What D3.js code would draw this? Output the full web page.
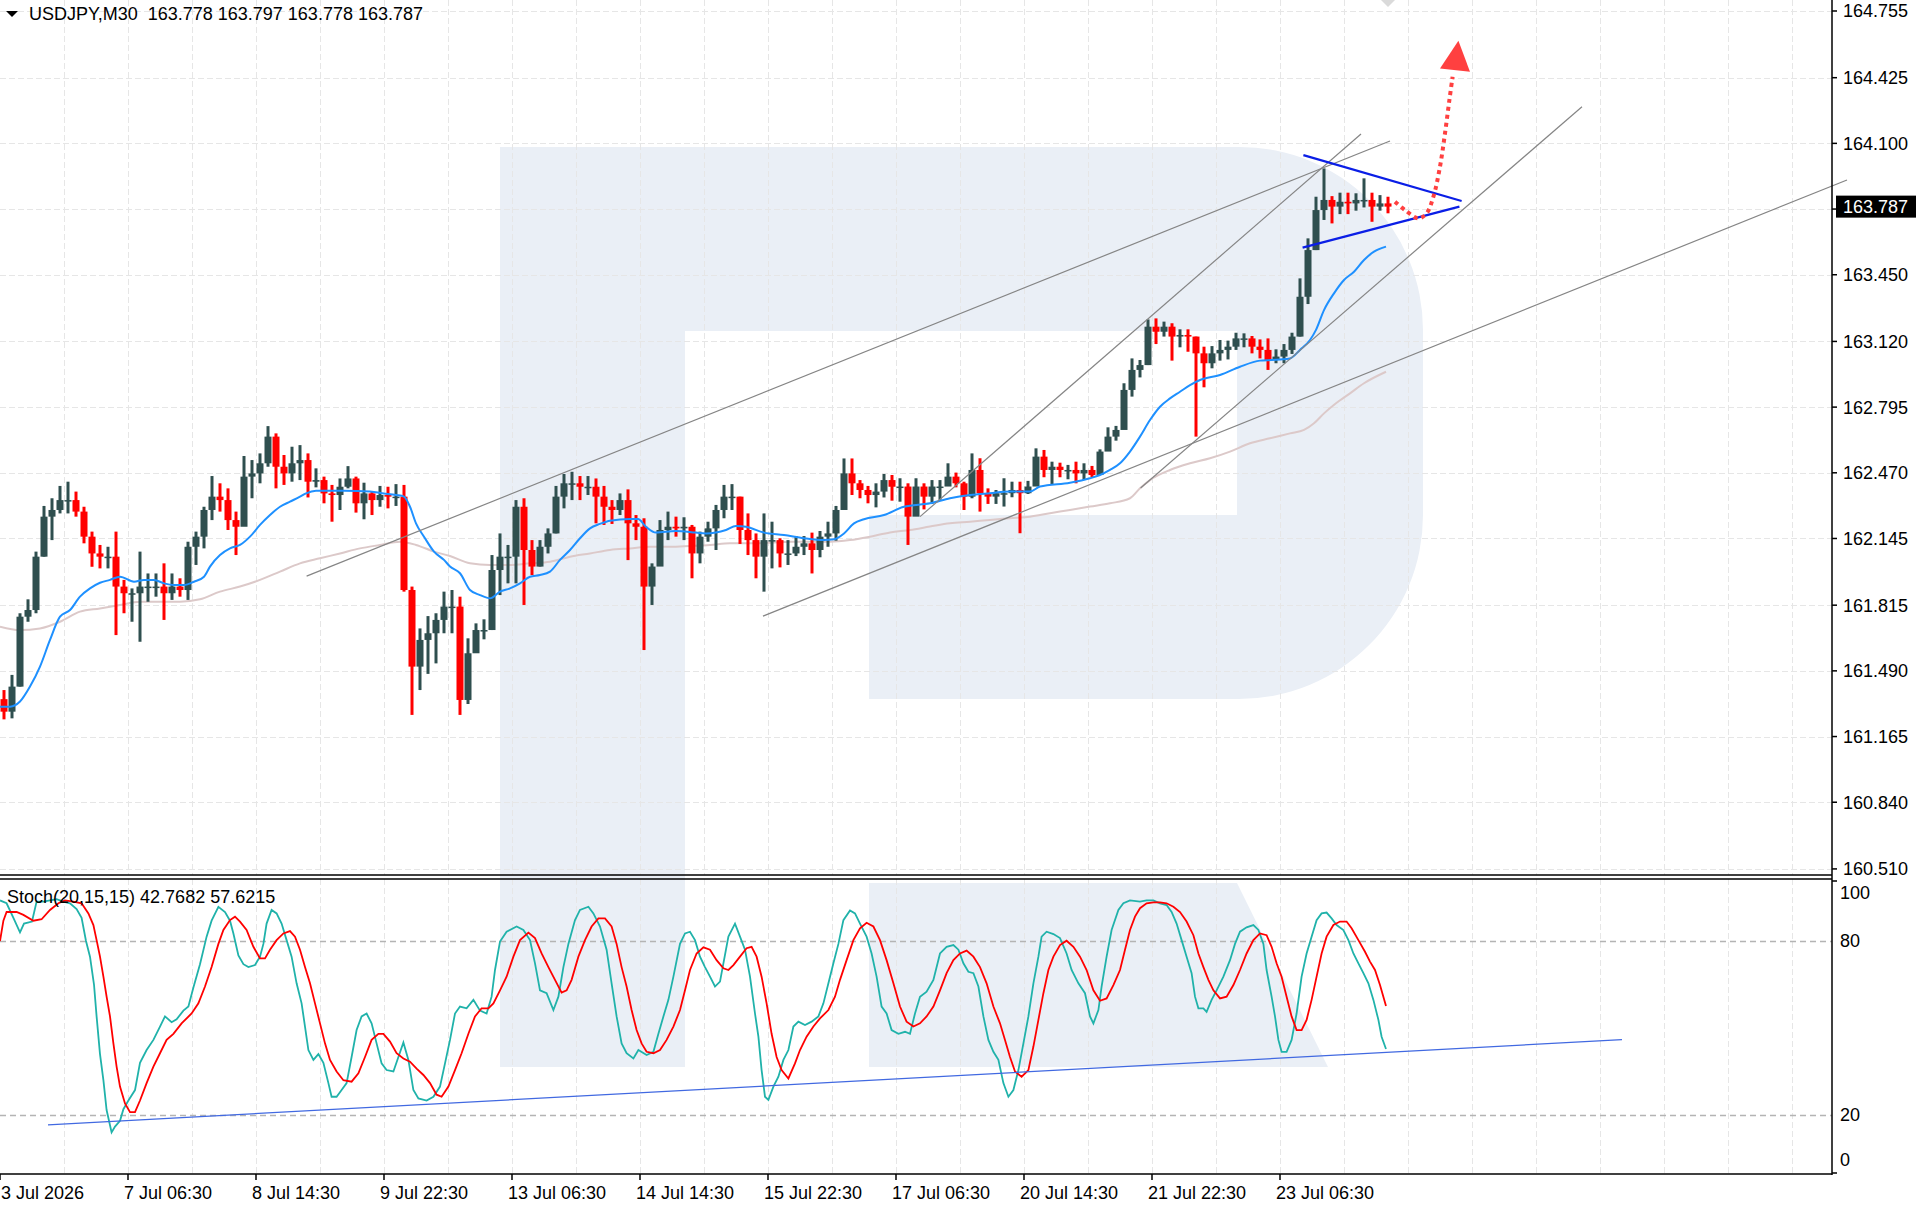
<!DOCTYPE html>
<html><head><meta charset="utf-8">
<script src="https://cdn.jsdelivr.net/npm/d3@7"></script>
<style>
body{margin:0;background:#fff;}
svg{display:block;}
text{font-family:"Liberation Sans",Arial,sans-serif;font-size:18px;fill:#000;}
</style>
</head><body>
<svg id="c" width="1923" height="1214"></svg>
<script>
// ---------------- DATA ----------------
const symbolTitle = "USDJPY,M30  163.778 163.797 163.778 163.787";
const stochTitle = "Stoch(20,15,15) 42.7682 57.6215";
const lastPrice = 163.787;
const barsPerCandle = 4;          // each candle below aggregates 4 M30 bars
const firstOpen = 161.35;
const highs = [161.395,161.470,161.775,161.844,162.080,162.306,162.344,162.405,162.426,162.377,
162.302,162.179,162.113,162.104,162.179,161.940,161.898,162.080,161.972,161.972,
162.022,161.972,161.948,162.129,162.179,162.302,162.454,162.418,162.393,162.278,
162.553,162.533,162.566,162.701,162.665,162.558,162.599,162.607,162.566,162.492,
162.451,162.410,162.442,162.503,162.451,162.421,162.377,162.405,162.401,162.414,
162.410,161.907,161.700,161.761,161.775,161.882,161.890,161.857,161.651,161.725,
161.745,162.063,162.170,162.113,162.335,162.344,162.137,162.137,162.195,162.405,
162.464,162.475,162.454,162.454,162.442,162.405,162.335,162.368,162.388,162.261,
162.245,162.022,162.236,162.278,162.253,162.250,162.212,162.179,162.228,162.311,
162.410,162.414,162.352,162.269,162.170,162.269,162.228,162.146,162.137,162.157,
162.157,162.174,162.182,162.228,162.306,162.541,162.541,162.434,162.405,162.418,
162.464,162.459,162.443,162.418,162.443,162.418,162.434,162.434,162.517,162.471,
162.426,162.566,162.542,162.393,162.385,162.443,162.426,162.426,162.430,162.591,
162.583,162.525,162.520,162.509,162.525,162.517,162.504,162.586,162.695,162.702,
162.913,163.036,163.028,163.229,163.234,163.218,163.210,163.180,163.180,163.144,
163.094,163.097,163.127,163.124,163.163,163.160,163.147,163.130,163.135,163.081,
163.107,163.163,163.432,163.630,163.836,163.976,163.839,163.856,163.856,163.853,
163.927,163.856,163.844,163.836];
const lows = [161.250,161.255,161.412,161.733,161.775,162.055,162.137,162.269,162.269,162.253,
162.121,162.005,161.997,161.997,161.667,161.775,161.733,161.634,161.832,161.857,
161.742,161.841,161.857,161.841,162.014,162.096,162.236,162.278,162.187,162.063,
162.236,162.344,162.418,162.500,162.393,162.410,162.426,162.434,162.348,162.398,
162.319,162.228,162.286,162.393,162.273,162.240,162.261,162.302,162.294,162.306,
161.882,161.272,161.395,161.475,161.527,161.676,161.676,161.272,161.326,161.602,
161.646,161.692,161.865,161.923,161.923,161.816,161.964,162.006,162.071,162.170,
162.294,162.335,162.335,162.360,162.220,162.212,162.217,162.261,162.038,162.137,
161.593,161.816,162.080,162.137,162.154,162.137,161.948,162.022,162.129,162.088,
162.245,162.286,162.118,162.063,161.948,161.882,161.997,162.002,162.014,162.058,
162.063,161.972,162.052,162.104,162.134,162.294,162.360,162.344,162.319,162.299,
162.348,162.332,162.327,162.113,162.319,162.289,162.316,162.336,162.415,162.398,
162.286,162.344,162.278,162.316,162.316,162.303,162.349,162.171,162.365,162.418,
162.448,162.410,162.448,162.438,162.418,162.434,162.448,162.464,162.580,162.629,
162.690,162.847,162.942,163.003,163.107,163.144,163.025,163.091,163.069,162.649,
162.893,162.987,163.025,163.031,163.078,163.091,163.061,163.036,162.979,163.012,
163.012,163.058,163.144,163.305,163.572,163.721,163.704,163.750,163.750,163.767,
163.783,163.712,163.767,163.754];
const closes = [161.288,161.412,161.758,161.791,162.055,162.253,162.286,162.335,162.335,162.278,
162.154,162.071,162.055,162.055,161.907,161.874,161.874,161.907,161.907,161.907,
161.874,161.907,161.890,162.104,162.154,162.286,162.352,162.335,162.236,162.203,
162.451,162.467,162.517,162.649,162.500,162.467,162.517,162.533,162.426,162.434,
162.368,162.360,162.401,162.442,162.319,162.368,162.335,162.360,162.352,162.352,
161.890,161.511,161.643,161.676,161.742,161.808,161.808,161.346,161.577,161.692,
161.692,161.989,162.055,162.055,162.302,162.088,162.006,162.104,162.170,162.352,
162.418,162.418,162.401,162.401,162.352,162.302,162.286,162.335,162.220,162.203,
161.907,162.006,162.187,162.203,162.195,162.203,162.071,162.154,162.195,162.286,
162.352,162.352,162.187,162.137,162.055,162.137,162.137,162.071,162.071,162.104,
162.121,162.088,162.154,162.170,162.286,162.467,162.418,162.385,162.360,162.377,
162.434,162.401,162.402,162.253,162.402,162.352,162.402,162.402,162.451,162.418,
162.352,162.484,162.369,162.352,162.369,162.369,162.385,162.369,162.402,162.550,
162.484,162.500,162.484,162.484,162.467,162.484,162.459,162.575,162.649,162.682,
162.880,162.979,163.003,163.193,163.168,163.193,163.144,163.152,163.144,163.061,
163.012,163.061,163.078,163.094,163.135,163.135,163.094,163.078,163.028,163.045,
163.078,163.144,163.341,163.572,163.770,163.820,163.787,163.811,163.803,163.820,
163.820,163.787,163.803,163.787];

// moving averages: [bar index, price]
const maFast = [[0,161.313],[5,161.313],[10,161.338],[15,161.412],[20,161.511],[25,161.643],[30,161.758],[35,161.791],[40,161.857],[45,161.898],[50,161.926],[55,161.940],[60,161.956],[67,161.931],[72,161.940],[77,161.940],[82,161.923],[87,161.915],[92,161.915],[97,161.931],[102,161.956],[105,162.006],[110,162.063],[115,162.096],[120,162.113],[125,162.154],[130,162.212],[135,162.261],[140,162.302],[145,162.327],[150,162.352],[153,162.368],[158,162.381],[172,162.381],[185,162.377],[192,162.368],[198,162.360],[202,162.352],[205,162.302],[208,162.220],[212,162.154],[217,162.080],[222,162.039],[225,162.006],[230,161.973],[235,161.890],[240,161.865],[245,161.849],[250,161.882],[255,161.898],[260,161.923],[265,161.956],[270,161.964],[275,161.981],[280,162.039],[285,162.088],[290,162.146],[295,162.195],[300,162.217],[305,162.233],[315,162.241],[319,162.241],[323,162.203],[328,162.174],[338,162.182],[348,162.174],[353,162.170],[363,162.187],[368,162.207],[373,162.203],[382,162.174],[392,162.162],[402,162.146],[412,162.137],[417,162.141],[422,162.170],[427,162.220],[432,162.240],[442,162.261],[452,162.302],[465,162.319],[475,162.344],[485,162.360],[495,162.369],[505,162.377],[515,162.377],[520,162.402],[535,162.421],[545,162.443],[550,162.459],[555,162.484],[560,162.517],[565,162.575],[570,162.649],[575,162.731],[580,162.797],[585,162.838],[590,162.871],[595,162.904],[600,162.929],[610,162.954],[620,162.995],[630,163.025],[640,163.031],[645,163.036],[650,163.078],[655,163.127],[658,163.177],[662,163.275],[667,163.358],[672,163.424],[677,163.465],[682,163.523],[687,163.564],[693,163.589]];
const maSlow = [[0,161.709],[10,161.692],[20,161.700],[30,161.733],[40,161.783],[50,161.799],[60,161.816],[70,161.832],[80,161.832],[90,161.832],[100,161.844],[110,161.882],[120,161.907],[130,161.940],[140,161.981],[150,162.022],[160,162.047],[170,162.071],[180,162.096],[190,162.113],[200,162.129],[208,162.113],[217,162.080],[225,162.058],[235,162.022],[245,162.014],[255,162.014],[265,162.022],[275,162.030],[285,162.055],[295,162.071],[305,162.088],[315,162.096],[325,162.104],[335,162.104],[345,162.108],[355,162.113],[365,162.121],[375,162.121],[385,162.124],[395,162.129],[405,162.129],[415,162.129],[425,162.137],[435,162.154],[445,162.175],[455,162.187],[465,162.204],[475,162.220],[485,162.228],[495,162.237],[505,162.245],[515,162.253],[525,162.270],[535,162.286],[545,162.303],[555,162.319],[565,162.344],[570,162.393],[575,162.434],[585,162.484],[595,162.517],[605,162.542],[615,162.575],[625,162.616],[635,162.641],[645,162.665],[652,162.682],[657,162.715],[662,162.764],[668,162.814],[675,162.863],[682,162.913],[693,162.970]];

// trend lines: [[bar, price],[bar, price]]
const grayLines = [
  [[153.3,161.959],[695,164.112]],
  [[460,162.253],[680.5,164.146]],
  [[570.3,162.395],[791,164.281]],
  [[381.5,161.761],[923.5,163.919]]
];
const triangleLines = [
  [[651.7,164.042],[730.8,163.815]],
  [[651.3,163.584],[729.7,163.787]]
];
const forecastPath = [[697.5,163.811],[702.5,163.770],[709.2,163.729],[713.3,163.754],[716.7,163.836],[720,163.985],[722.5,164.150],[724.7,164.315],[726.3,164.430]];
const forecastHead = [[729.2,164.608],[720,164.471],[735,164.455]];

// stochastic: [bar, value]
const stochMain = [[0,94],[3.3,93],[6.7,88],[10,83],[12,86],[16,86.7],[18.3,93.6],[21.7,93.6],[25,94],[28.3,94.4],[31.7,93.6],[35,93],[38.3,91],[40.8,88],[43,80],[45,74.6],[47,65],[48.3,54],[50,41],[51.7,32],[53.3,21.7],[55.8,14],[57.5,16],[60,18],[61.7,22],[64.2,25],[67.5,28.6],[70,38],[73.3,42.4],[76.7,45.9],[80,50.5],[82.5,54],[85.8,52],[88.3,53],[91.7,56],[94.2,57.4],[96.7,64],[100,72],[103.3,81.5],[105.8,87],[109.2,91.8],[112.5,90],[115,87],[116.7,82.6],[119.2,75],[121.7,72],[124.2,71],[127.5,71.7],[130,74.6],[131.7,79],[133.3,86],[135.8,90.7],[138.3,89.5],[140.8,86],[143.3,80.3],[145.8,74.6],[148.3,65.4],[150.8,58.5],[152.5,50.5],[154.2,42.4],[156.7,39],[159.2,41],[161.7,38],[164.2,31],[165.8,26.3],[168.3,26.3],[170.8,28.6],[173.3,31],[175.8,40],[178.3,49.3],[180.8,54],[183.3,55],[185.8,51.6],[188.3,44.7],[190.8,37.8],[193.3,35.5],[196.7,35],[199.2,40],[201.7,45],[204.2,39],[206.7,28.6],[209.2,25.7],[213.3,25],[216.7,26.3],[220,29.8],[222.5,37.8],[225,45.9],[227.5,55],[230,57.4],[233.3,56.8],[236.7,59.7],[240,56],[243.3,55],[245.8,60.8],[247.5,70],[250,79.8],
[253.3,83.2],[258.3,85],[261.7,83.8],[265,80.3],[267.5,72.3],[270,63],[273.3,62],[276.7,56.2],[279.2,60.8],[281.7,71],[284.2,79],[287.5,87.2],[290,90.7],[294.2,91.8],[296.7,89.5],[300,85],[303.3,77],[305.8,65.4],[308.3,54],[310.8,44.7],[313.3,41.3],[316.7,39.5],[319.2,42.4],[323.3,40.7],[326.7,41.8],[329.2,48],[331.7,54],[334.2,59.7],[336.7,67.7],[340,79],[342.5,82.6],[345,83.2],[347.5,80.3],[350,74.6],[352.5,71],[355,67.7],[357.5,64.3],[360,66],[361.7,72.3],[364.2,81.5],[367.5,86],[370,81.5],[372.5,77],[375,67.7],[377.5,55],[379.2,47],[380.8,35.5],[382.5,26.3],[384.2,25.2],[386.7,29.8],[389.2,33.2],[391.7,39],[394.2,42.4],[396.7,50.5],[399.2,52.2],[402.5,51],[405.8,52.2],[409.2,54],[411.7,58.5],[414.2,65.4],[416.7,72.3],[419.2,79],[421.7,87.2],[425,90.5],[427.5,89.5],[430,86],[433.3,81.5],[435.8,75.7],[438.3,67.7],[440.8,57.4],[443.3,55],[445.8,49.3],[449.2,48],[452.5,48.7],[455,48],[457.5,55],[460,60.8],[463.3,62.5],[466.7,66.6],[470,75.7],[473.3,78],[476.7,78.6],[479.2,77],[481.7,72.3],[484.2,69.4],[486.7,68.9],[489.2,64.3],[491.7,54],[494.2,45.9],[496.7,41.8],[499.2,39],
[501.7,31],[504.2,26.3],[506.7,28.6],[509.2,35.5],[511.7,44.7],[514.2,54],[516.7,65.4],[519.2,74.6],[520.8,81.5],[523.3,83.2],[526.7,82.4],[530,81],[533.3,75.7],[535.8,70],[539.2,65.4],[542.5,62],[545,54],[546.7,51.6],[549.2,56.2],[550.8,64.3],[553.3,74.6],[555.8,83.8],[559.2,90.7],[561.7,93],[565,94],[570,93.6],[573.3,94],[576.7,94],[580,93],[583.3,92.4],[585.8,90],[588.3,86],[590.8,80.3],[593.3,74.6],[595.8,68.9],[597.5,60.8],[599.2,56.8],[601.7,56.8],[603.3,55.6],[605.8,59.7],[608.3,63],[611.7,67.7],[615,73.4],[617.5,79],[620,83.2],[623.3,84.7],[626.7,85.5],[629.2,83.8],[631.7,79],[633.3,70],[635.8,60.8],[637.5,54],[639.2,45.9],[640.8,41.8],[643.3,41.8],[645.8,45.9],[648.3,55],[650.8,67.7],[653.3,75.7],[655.8,81.5],[658.3,87.2],[660.8,89.5],[663.3,89.8],[665.8,87.8],[668.3,85.5],[671.7,83.8],[674.2,80.3],[676.7,75.7],[679.2,72.3],[681.7,68.9],[684.2,65.4],[686.7,59.7],[689.2,52.8],[690.8,47],[693,42.77]];
const stochSignal = [[0,80],[1.7,87],[3.3,90],[8.3,90],[11.7,89],[16.7,87],[20.8,87.5],[25,90.7],[29.2,93],[32.5,94],[36.7,93.6],[40.8,93],[44.2,89.5],[46.7,85.5],[48.3,80.3],[50,74.6],[51.7,67.7],[53.3,60.8],[55,54],[56.7,44.7],[58.3,36.7],[60,29.8],[62.5,24],[65,21],[67.5,21],[70,25],[73.3,31],[76.7,36.7],[80,41.3],[83.3,45.9],[86.7,48],[90.8,51.6],[95.8,55],[99.2,58.5],[102.5,64.3],[105.8,71],[109.2,79],[111.7,83.8],[115,87.2],[117.5,88.4],[120,86.7],[123.3,83.8],[126.7,78],[130,74],[132.5,74],[135,77],[138.3,80.3],[141.7,82.6],[145,83.4],[147.5,81.5],[150,77],[152.5,71],[155,65.4],[157.5,58.5],[160,51.6],[162.5,44.7],[165,39],[168.3,35],[171.7,32],[175.8,31.5],[179.2,34.4],[182.5,40],[185.8,45.9],[189.2,48],[191.7,48],[195,45.3],[198.3,41.3],[201.7,39.5],[205,38.4],[208.3,36],[211.7,33.8],[215,31],[218.3,27],[220.8,26.3],[224.2,29.8],[227.5,35.5],[230.8,41.3],[234.2,48],[237.5,54],[240.8,56.8],[244.2,56.8],[246.7,58.5],[250,63],
[253.3,67.7],[256.7,74.6],[260,80.3],[264.2,82.9],[267.5,81],[270.8,75.7],[274.2,71],[277.5,66.6],[280.8,62.2],[283.3,63],[285.8,66.6],[289.2,74.6],[292.5,80.3],[295.8,85],[299.2,87.8],[302.5,87.8],[305.8,85],[308.3,79],[310.8,71],[313.3,64.3],[315.8,56.2],[318.3,49.3],[320.8,44.7],[323.3,41.8],[326.7,41.3],[330,42.4],[333.3,45.9],[336.7,50.5],[340,56.2],[342.5,63],[345,70],[348.3,75.7],[351.7,77.8],[355,77],[358.3,73.4],[361.7,70.6],[364.2,70],[366.7,71.7],[370,74.6],[373.3,77.5],[375.8,78],[378.3,74.6],[380.8,67.7],[383.3,58.5],[385.8,48],[388.3,40],[390.8,35.5],[394.2,32.6],[397.5,37.8],[400,42.4],[403.3,47],[406.7,50.5],[410,53.3],[414.2,56.2],[417.5,60.8],[420,66.6],[423.3,73.4],[426.7,80.3],[430,84.4],[433.3,86.3],[436.7,85],[440,80.3],[443.3,73.4],[446.7,65.4],[450,57.4],[453.3,52.2],[456.7,50.5],[460,51.6],[463.3,54],[466.7,57.4],[470,63],[473.3,68.9],[476.7,73.4],[480,75.7],[483.3,76.7],[486.7,74.6],[490,71],[493.3,65.4],[496.7,57.4],[500,51.6],
[502.5,45.9],[505,40],[507.5,35],[510.8,33.2],[514.2,35.5],[516.7,43.6],[519.2,52.8],[521.7,62],[524.2,70],[526.7,74.6],[530,78.6],[533.3,80.1],[536.7,78],[540,74.6],[543.3,70],[546.7,63],[550,59.4],[553.3,60.2],[556.7,64.8],[560,70],[562.5,77],[565,83.8],[567.5,88.4],[570,91.3],[573.3,93],[576.7,93.3],[580,93.3],[583.3,93],[586.7,91.8],[590,90],[593.3,86.7],[596.7,82],[599.2,75.7],[601.7,71],[604.2,66.6],[606.7,63],[610,60.2],[613.3,60.8],[616.7,64.8],[620,70],[623.3,75.7],[626.7,80.3],[630,82.6],[633.3,82],[635.8,78],[638.3,72.3],[640.8,67.7],[643.3,60.8],[645.8,54],[648.3,49.3],[650.8,49.3],[653.3,52.8],[655.8,59.7],[658.3,67.7],[660.8,75.7],[663.3,81.5],[666.7,85.5],[670,86.7],[673.3,86.7],[675.8,84.4],[679.2,80.3],[682.5,76.3],[685,72.9],[687.5,70],[690,64.8],[693,57.62]];
const stochTrend = [[24,16.6],[811,46]];
const stochLevels = [80, 20];
const stochLabels = [100, 80, 20, 0];

// axes
const priceTicks = [164.755,164.425,164.100,163.775,163.450,163.120,162.795,162.470,162.145,161.815,161.490,161.165,160.840,160.510];
const timeTickBars = [0,64,128,192,256,320,384,448,512,576,640];
const timeTickLabels = ["3 Jul 2026","7 Jul 06:30","8 Jul 14:30","9 Jul 22:30","13 Jul 06:30","14 Jul 14:30","15 Jul 22:30","17 Jul 06:30","20 Jul 14:30","21 Jul 22:30","23 Jul 06:30"];
const gridStepBars = 32;
const visibleBars = 916;

// ---------------- LAYOUT ----------------
const W = 1923, H = 1214;
const plotRight = 1832;
const mainBottom = 875, stochTop = 879, stochBottom = 1174;

const svg = d3.select("#c");
const x = d3.scaleLinear().domain([0, visibleBars]).range([0, plotRight]);
const y = d3.scaleLinear().domain([160.4799, 164.8094]).range([mainBottom, 0]);
const ys = d3.scaleLinear().domain([0, 100]).range([1173, 883]);

svg.append("rect").attr("width", W).attr("height", H).attr("fill", "#fff");

// watermark logo (decorative)
const logo = svg.append("g").attr("fill", "#EAEFF6");
logo.append("path").attr("d",
  "M500,147 H1240 A183,183 0 0 1 1423,330 V515 A184,184 0 0 1 1239,699 H869 V515 H1237 V331 H685 V1067 H500 Z");
logo.append("path").attr("d", "M869,883 H1237 L1328,1067 H869 Z");

// grid
const grid = svg.append("g").attr("stroke", "#E6E6E6").attr("stroke-width", 1).attr("stroke-dasharray", "6,3");
for (let b = gridStepBars; b < visibleBars; b += gridStepBars) {
  const gx = Math.round(x(b)) + 0.5;
  grid.append("line").attr("x1", gx).attr("x2", gx).attr("y1", 0).attr("y2", mainBottom);
  grid.append("line").attr("x1", gx).attr("x2", gx).attr("y1", stochTop).attr("y2", stochBottom);
}
priceTicks.forEach(p => {
  const gy = Math.round(y(p)) + 0.5;
  grid.append("line").attr("x1", 0).attr("x2", plotRight).attr("y1", gy).attr("y2", gy);
});

// clip for panels
svg.append("clipPath").attr("id", "mainClip").append("rect").attr("x", 0).attr("y", 0).attr("width", plotRight).attr("height", mainBottom);
svg.append("clipPath").attr("id", "stClip").append("rect").attr("x", 0).attr("y", stochTop).attr("width", plotRight).attr("height", stochBottom - stochTop);

const main = svg.append("g").attr("clip-path", "url(#mainClip)");

// slow MA
const lineP = d3.line().x(d => x(d[0])).y(d => y(d[1])).curve(d3.curveMonotoneX);
main.append("path").attr("d", lineP(maSlow)).attr("fill", "none").attr("stroke", "#DCC9C9").attr("stroke-width", 2);

// candles
const candles = closes.map((c, i) => ({
  i, o: i === 0 ? firstOpen : closes[i - 1], h: highs[i], l: lows[i], c
}));
const cg = main.append("g");
candles.forEach(d => {
  const cx = x(d.i * barsPerCandle + barsPerCandle / 2);
  const bull = d.c >= d.o;
  const col = bull ? "#2F4F4F" : "#FF0000";
  cg.append("line").attr("x1", cx).attr("x2", cx).attr("y1", y(d.h)).attr("y2", y(d.l))
    .attr("stroke", col).attr("stroke-width", 3);
  const top = y(Math.max(d.o, d.c)), bot = y(Math.min(d.o, d.c));
  cg.append("rect").attr("x", cx - 3.5).attr("y", top).attr("width", 7).attr("height", Math.max(1.5, bot - top))
    .attr("fill", col);
});

// fast MA
main.append("path").attr("d", lineP(maFast)).attr("fill", "none").attr("stroke", "#1E90FF").attr("stroke-width", 2);

// trend lines (not clipped on the right)
const tl = svg.append("g");
grayLines.forEach(s => {
  tl.append("line").attr("x1", x(s[0][0])).attr("y1", y(s[0][1])).attr("x2", x(s[1][0])).attr("y2", y(s[1][1]))
    .attr("stroke", "#858585").attr("stroke-width", 1.2);
});
triangleLines.forEach(s => {
  tl.append("line").attr("x1", x(s[0][0])).attr("y1", y(s[0][1])).attr("x2", x(s[1][0])).attr("y2", y(s[1][1]))
    .attr("stroke", "#0A1EE6").attr("stroke-width", 2.2);
});
// forecast arrow
const lineF = d3.line().x(d => x(d[0])).y(d => y(d[1])).curve(d3.curveCatmullRom);
tl.append("path").attr("d", lineF(forecastPath)).attr("fill", "none").attr("stroke", "#FF4040")
  .attr("stroke-width", 4).attr("stroke-dasharray", "4,4");
tl.append("path").attr("d", d3.line().x(d => x(d[0])).y(d => y(d[1]))(forecastHead) + "Z").attr("fill", "#FF4040");

// chart shift marker
svg.append("path").attr("d", "M1381,0 L1395,0 L1388,7 Z").attr("fill", "#DADADA");

// ---- stochastic panel ----
const st = svg.append("g").attr("clip-path", "url(#stClip)");
stochLevels.forEach(l => {
  st.append("line").attr("x1", 0).attr("x2", plotRight).attr("y1", Math.round(ys(l)) + 0.5).attr("y2", Math.round(ys(l)) + 0.5)
    .attr("stroke", "#B4B4B4").attr("stroke-width", 1.5).attr("stroke-dasharray", "6,4");
});
const lineS = d3.line().x(d => x(d[0])).y(d => ys(d[1]));
st.append("path").attr("d", lineS(stochMain)).attr("fill", "none").attr("stroke", "#20B2AA").attr("stroke-width", 1.8);
st.append("path").attr("d", lineS(stochSignal)).attr("fill", "none").attr("stroke", "#FF0000").attr("stroke-width", 1.8);
st.append("line").attr("x1", x(stochTrend[0][0])).attr("y1", ys(stochTrend[0][1]))
  .attr("x2", x(stochTrend[1][0])).attr("y2", ys(stochTrend[1][1])).attr("stroke", "#4169E1").attr("stroke-width", 1.3);

// ---- frames / axes ----
const fr = svg.append("g").attr("stroke", "#000").attr("stroke-width", 1.5);
fr.append("line").attr("x1", plotRight).attr("x2", plotRight).attr("y1", 0).attr("y2", stochBottom + 1);
fr.append("line").attr("x1", 0).attr("x2", plotRight).attr("y1", mainBottom).attr("y2", mainBottom);
fr.append("line").attr("x1", 0).attr("x2", plotRight).attr("y1", stochTop).attr("y2", stochTop);
fr.append("line").attr("x1", 0).attr("x2", plotRight).attr("y1", stochBottom).attr("y2", stochBottom);

// price axis
priceTicks.forEach(p => {
  const py = y(p);
  fr.append("line").attr("x1", plotRight).attr("x2", plotRight + 5).attr("y1", py).attr("y2", py);
  svg.append("text").attr("x", plotRight + 11).attr("y", py).attr("dy", "0.36em").text(p.toFixed(3));
});
// last price label
svg.append("rect").attr("x", plotRight + 4).attr("y", y(lastPrice) - 11).attr("width", 80).attr("height", 22).attr("fill", "#000");
svg.append("text").attr("x", plotRight + 11).attr("y", y(lastPrice)).attr("dy", "0.36em").style("fill", "#fff").text(lastPrice.toFixed(3));

// stoch axis labels
stochLabels.forEach(v => {
  let py = ys(v);
  if (v === 100) py = 893;
  if (v === 0) py = 1160;
  svg.append("text").attr("x", plotRight + 8).attr("y", py).attr("dy", "0.36em").text(v);
});
fr.append("line").attr("x1", plotRight).attr("x2", plotRight + 5).attr("y1", stochTop + 2).attr("y2", stochTop + 2);
fr.append("line").attr("x1", plotRight).attr("x2", plotRight + 5).attr("y1", stochBottom - 1).attr("y2", stochBottom - 1);

// time axis
timeTickBars.forEach((b, k) => {
  const tx = x(b);
  fr.append("line").attr("x1", tx).attr("x2", tx).attr("y1", stochBottom).attr("y2", stochBottom + 6);
  svg.append("text").attr("x", Math.max(1, tx - 4)).attr("y", 1199).text(timeTickLabels[k]);
});

// titles
svg.append("path").attr("d", "M6,11 L18,11 L12,17 Z").attr("fill", "#000");
svg.append("text").attr("x", 29).attr("y", 20).style("white-space", "pre").text(symbolTitle);
svg.append("text").attr("x", 7).attr("y", 903).text(stochTitle);
</script>
</body></html>
